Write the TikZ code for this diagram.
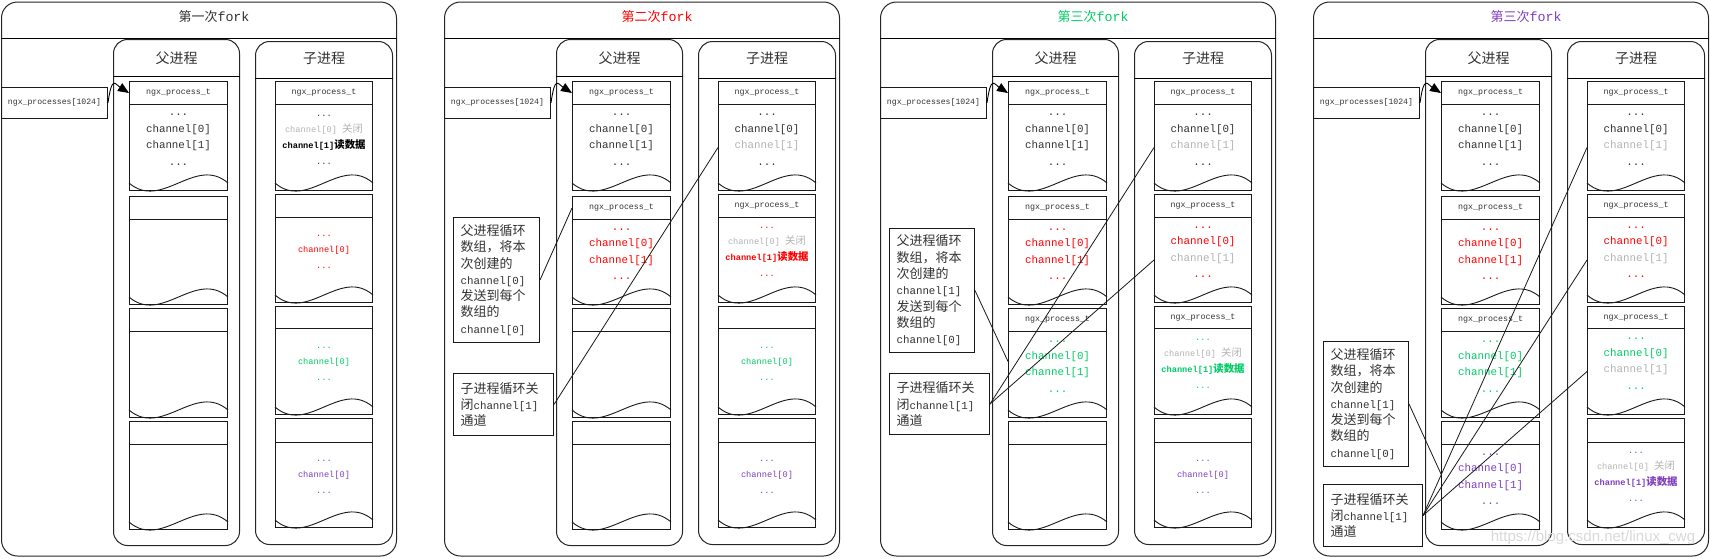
\documentclass[tikz,border=0pt]{standalone}
\usepackage{fontspec}
\setmainfont{Liberation Mono}[Scale=0.833]
\newfontfamily\cjk{Noto Sans CJK SC}
\newfontfamily\wmfont{Liberation Sans}
\usetikzlibrary{arrows.meta,calc}
\definecolor{cd}{HTML}{333333}
\definecolor{cl}{HTML}{B3B3B3}
\definecolor{cr}{HTML}{FF0000}
\definecolor{cg}{HTML}{00CC66}
\definecolor{cp}{HTML}{7F3FBF}
\newcommand{\zh}[1]{{\cjk #1}}
\newcommand{\clsln}{\textcolor{cl}{channel[0] \zh{关闭}}}
\newcommand{\rdln}{{\bfseries channel[1]\zh{读数据}}}
\newcommand{\hdrtxt}{ngx\_process\_t}
% element: name, x0, x1, ytop, yhdr, ybot, header, body style, body text
\newcommand{\elbox}[9]{%
  \node[hdrbox, minimum width={#3-#2}, minimum height={#5-#4}] (#1h) at (#2,#4) {#7};
  \node[bodybox, minimum width={#3-#2}, minimum height={#6-#5}] (#1b) at (#2,#5) {};
  \draw[wavy] ($(#1b.south west)+(0,-8)$) .. controls +({(#3-#2)/3},28) and +({-(#3-#2)/3},-28) .. ($(#1b.south east)+(0,-8)$);
  \node[#8] (#1t) at ($(#1b.center)+(0,-8)$) {#9};
}
\newcommand{\pel}[5]{%
  \ifcase#2\relax\or
    \elbox{#1}{128}{226}{81}{104}{190}{#3}{#4}{#5}%
  \or
    \elbox{#1}{128}{226}{196}{219}{304}{#3}{#4}{#5}%
  \or
    \elbox{#1}{128}{226}{308}{331}{417}{#3}{#4}{#5}%
  \or
    \elbox{#1}{128}{226}{421}{444}{529}{#3}{#4}{#5}%
  \fi}
\newcommand{\cel}[5]{%
  \ifcase#2\relax\or
    \elbox{#1}{274}{371}{81}{104}{190}{#3}{#4}{#5}%
  \or
    \elbox{#1}{274}{371}{194}{217}{302}{#3}{#4}{#5}%
  \or
    \elbox{#1}{274}{371}{306}{328}{414}{#3}{#4}{#5}%
  \or
    \elbox{#1}{274}{371}{418}{442}{527}{#3}{#4}{#5}%
  \fi}
% panel frame: prefix, title colour, title cjk
\newcommand{\fkpanel}[3]{%
  \node[outerbox, minimum width=395, minimum height=554] (#1o) at (0,1.5) {};
  \draw[sepline] ($(#1o.north west)+(0,37)$) -- ($(#1o.north east)+(0,37)$);
  \node[paneltitle, text=#2] (#1ttl) at ($(#1o.north)+(15,15)$) {\zh{#3}{\fontsize{16}{16}\selectfont fork}};
  \node[contbox, minimum width=126, minimum height=506] (#1par) at (112,39) {};
  \draw[sepline] ($(#1par.north west)+(0,37.5)$) -- ($(#1par.north east)+(0,37.5)$);
  \node[conttitle] (#1part) at ($(#1par.north)+(0,19)$) {\zh{父进程}};
  \node[contbox, minimum width=137, minimum height=503] (#1chi) at (254,41) {};
  \draw[sepline] ($(#1chi.north west)+(0,37.5)$) -- ($(#1chi.north east)+(0,37.5)$);
  \node[conttitle] (#1chit) at ($(#1chi.north)+(0,17)$) {\zh{子进程}};
  \node[npbox] (#1np) at (0,87) {ngx\_processes[1024]};
}
\newcommand{\nparrow}[1]{%
  \draw[arr] (#1np.east) .. controls +(4,-28) and +(-14,-9) .. (#1pe1h.west);
}
\begin{document}
\begin{tikzpicture}[x=1pt,y=-1pt,
  outerbox/.style={draw=black!85, line width=1pt, rounded corners=16pt, anchor=north west, inner sep=0pt},
  contbox/.style={draw=black!85, line width=1pt, rounded corners=14pt, anchor=north west, inner sep=0pt},
  sepline/.style={draw=black, line width=0.9pt},
  hdrbox/.style={draw=black!90, line width=1pt, anchor=north west, inner sep=0pt, font=\fontsize{10}{12}\selectfont, text=cd},
  bodybox/.style={draw=black!90, line width=1pt, anchor=north west, inner sep=0pt},
  wavy/.style={draw=black!90, line width=0.9pt},
  bigtxt/.style={font=\fontsize{13}{16.5}\selectfont, align=center, text=cd},
  smalltxt/.style={font=\fontsize{10.4}{16}\selectfont, align=center, text=cd},
  notebox/.style={draw=black!90, line width=1pt, anchor=north west, inner xsep=7pt, inner ysep=2pt, align=left, font=\fontsize{13}{16.3}\selectfont, text=cd},
  npbox/.style={draw=black!90, line width=1pt, anchor=north west, inner sep=0pt, minimum width=106, minimum height=30.5, font=\fontsize{9.8}{12}\selectfont, text=cd},
  conn/.style={draw=black!90, line width=0.8pt},
  arr/.style={draw=black, line width=0.9pt, -{Triangle[length=11pt,width=9pt]}},
  paneltitle/.style={font=\fontsize{13}{15}\selectfont},
  conttitle/.style={font=\fontsize{14}{16}\selectfont, text=cd}
]
\useasboundingbox (0,0) rectangle (1710,558);
\fill[white] (0,0) rectangle (1710,558);

% ---------------- panel 1 ----------------
\begin{scope}[shift={(1,0)}]
\fkpanel{p1}{cd}{第一次}
\pel{p1pe1}{1}{\hdrtxt}{bigtxt}{...\\channel[0]\\channel[1]\\...}
\pel{p1pe2}{2}{}{bigtxt}{}
\pel{p1pe3}{3}{}{bigtxt}{}
\pel{p1pe4}{4}{}{bigtxt}{}
\cel{p1ce1}{1}{\hdrtxt}{smalltxt}{...\\\clsln\\\textcolor{black}{\rdln}\\...}
\cel{p1ce2}{2}{}{smalltxt,text=cr}{...\\channel[0]\\...}
\cel{p1ce3}{3}{}{smalltxt,text=cg}{...\\channel[0]\\...}
\cel{p1ce4}{4}{}{smalltxt,text=cp}{...\\channel[0]\\...}
\nparrow{p1}
\end{scope}

% ---------------- panel 2 ----------------
\begin{scope}[shift={(444,0)}]
\fkpanel{p2}{cr}{第二次}
\pel{p2pe1}{1}{\hdrtxt}{bigtxt}{...\\channel[0]\\channel[1]\\...}
\pel{p2pe2}{2}{\hdrtxt}{bigtxt,text=cr}{...\\channel[0]\\channel[1]\\...}
\pel{p2pe3}{3}{}{bigtxt}{}
\pel{p2pe4}{4}{}{bigtxt}{}
\cel{p2ce1}{1}{\hdrtxt}{bigtxt}{...\\channel[0]\\\textcolor{cl}{channel[1]}\\...}
\cel{p2ce2}{2}{\hdrtxt}{smalltxt,text=cr}{...\\\clsln\\\rdln\\...}
\cel{p2ce3}{3}{}{smalltxt,text=cg}{...\\channel[0]\\...}
\cel{p2ce4}{4}{}{smalltxt,text=cp}{...\\channel[0]\\...}
\nparrow{p2}
\node[notebox, text width=72pt, minimum height=125] (p2A) at (9,217) {\zh{父进程循环}\\\zh{数组，将本}\\\zh{次创建的}\\channel[0]\\\zh{发送到每个}\\\zh{数组的}\\channel[0]};
\node[notebox, text width=86pt, minimum height=62] (p2B) at (9,373) {\zh{子进程循环关}\\\zh{闭}channel[1]\\\zh{通道}};
\draw[conn] (p2A.east) -- (p2pe2h.west);
\draw[conn] (p2B.east) -- (p2ce1b.west);
\end{scope}

% ---------------- panel 3 ----------------
\begin{scope}[shift={(880,0)}]
\fkpanel{p3}{cg}{第三次}
\pel{p3pe1}{1}{\hdrtxt}{bigtxt}{...\\channel[0]\\channel[1]\\...}
\pel{p3pe2}{2}{\hdrtxt}{bigtxt,text=cr}{...\\channel[0]\\channel[1]\\...}
\pel{p3pe3}{3}{\hdrtxt}{bigtxt,text=cg}{...\\channel[0]\\channel[1]\\...}
\pel{p3pe4}{4}{}{bigtxt}{}
\cel{p3ce1}{1}{\hdrtxt}{bigtxt}{...\\channel[0]\\\textcolor{cl}{channel[1]}\\...}
\cel{p3ce2}{2}{\hdrtxt}{bigtxt,text=cr}{...\\channel[0]\\\textcolor{cl}{channel[1]}\\...}
\cel{p3ce3}{3}{\hdrtxt}{smalltxt,text=cg}{...\\\clsln\\\rdln\\...}
\cel{p3ce4}{4}{}{smalltxt,text=cp}{...\\channel[0]\\...}
\nparrow{p3}
\node[notebox, text width=71pt, minimum height=124] (p3A) at (9,228) {\zh{父进程循环}\\\zh{数组，将本}\\\zh{次创建的}\\channel[1]\\\zh{发送到每个}\\\zh{数组的}\\channel[0]};
\node[notebox, text width=86pt, minimum height=61] (p3B) at (9,373) {\zh{子进程循环关}\\\zh{闭}channel[1]\\\zh{通道}};
\draw[conn] (p3A.east) -- ($(p3pe3b.west)+(0,-13)$);
\draw[conn] (p3B.east) -- (p3ce1b.west);
\draw[conn] (p3B.east) -- (p3ce2b.west);
\end{scope}

% ---------------- panel 4 ----------------
\begin{scope}[shift={(1313,0)}]
\fkpanel{p4}{cp}{第三次}
\pel{p4pe1}{1}{\hdrtxt}{bigtxt}{...\\channel[0]\\channel[1]\\...}
\pel{p4pe2}{2}{\hdrtxt}{bigtxt,text=cr}{...\\channel[0]\\channel[1]\\...}
\pel{p4pe3}{3}{\hdrtxt}{bigtxt,text=cg}{...\\channel[0]\\channel[1]\\...}
\pel{p4pe4}{4}{}{bigtxt,text=cp}{...\\channel[0]\\channel[1]\\...}
\cel{p4ce1}{1}{\hdrtxt}{bigtxt}{...\\channel[0]\\\textcolor{cl}{channel[1]}\\...}
\cel{p4ce2}{2}{\hdrtxt}{bigtxt,text=cr}{...\\channel[0]\\\textcolor{cl}{channel[1]}\\...}
\cel{p4ce3}{3}{\hdrtxt}{bigtxt,text=cg}{...\\channel[0]\\\textcolor{cl}{channel[1]}\\...}
\cel{p4ce4}{4}{}{smalltxt,text=cp}{...\\\clsln\\\rdln\\...}
\nparrow{p4}
\node[notebox, text width=71pt, minimum height=125] (p4A) at (10,341) {\zh{父进程循环}\\\zh{数组，将本}\\\zh{次创建的}\\channel[1]\\\zh{发送到每个}\\\zh{数组的}\\channel[0]};
\node[notebox, text width=85pt, minimum height=62] (p4B) at (10,484) {\zh{子进程循环关}\\\zh{闭}channel[1]\\\zh{通道}};
\draw[conn] (p4A.east) -- ($(p4pe4b.west)+(0,-13)$);
\draw[conn] (p4B.east) -- (p4ce1b.west);
\draw[conn] (p4B.east) -- (p4ce2b.west);
\draw[conn] (p4B.east) -- (p4ce3b.west);
\end{scope}

\node[text=black!15, font=\wmfont\fontsize{15}{15}\selectfont] (wm) at (1593,538) {https://blog.csdn.net/linux\_cwg};
\end{tikzpicture}
\end{document}
